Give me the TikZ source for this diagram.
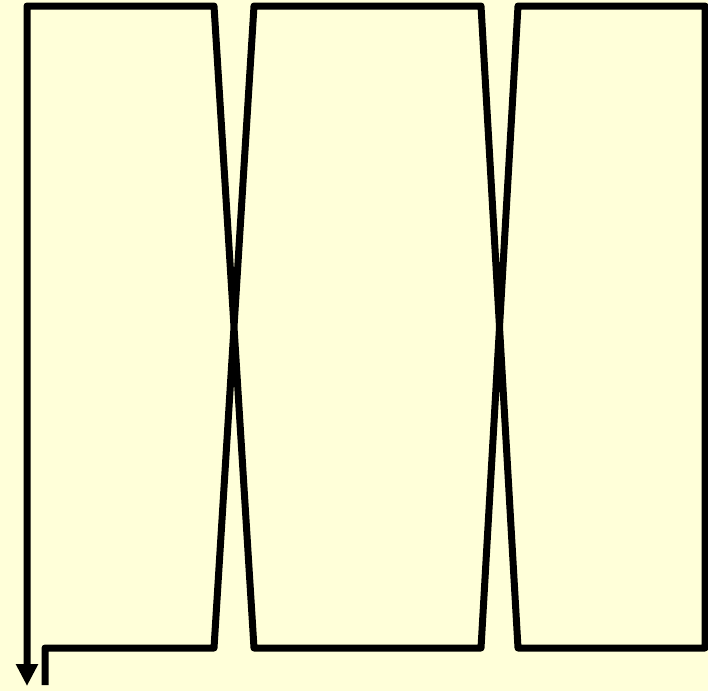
\documentclass[tikz,border=0pt]{standalone}
\usetikzlibrary{arrows.meta}
\definecolor{bgyellow}{RGB}{255,255,217}
\tikzset{loopline/.style={line width=7pt, line join=round, draw=black}}
\begin{document}
\begin{tikzpicture}[x=1pt,y=-1pt]
\fill[bgyellow] (0,0) rectangle (708,691);
\useasboundingbox (0,0) rectangle (708,691);
\coordinate (start) at (45,685);
\coordinate (a) at (45,648);
\coordinate (b) at (214,648);
\coordinate (c) at (254,6);
\coordinate (d) at (481,6);
\coordinate (e) at (518,648);
\coordinate (f) at (705,648);
\coordinate (g) at (705,6);
\coordinate (h) at (518,6);
\coordinate (i) at (481,648);
\coordinate (j) at (254,648);
\coordinate (k) at (214,6);
\coordinate (l) at (27,6);
\coordinate (endpt) at (27,686);
\draw[loopline, -{Triangle[length=22pt,width=21pt]}]
  (start) -- (a) -- (b) -- (c) -- (d) -- (e) -- (f) -- (g) -- (h) -- (i) -- (j) -- (k) -- (l) -- (endpt);
\end{tikzpicture}
\end{document}
